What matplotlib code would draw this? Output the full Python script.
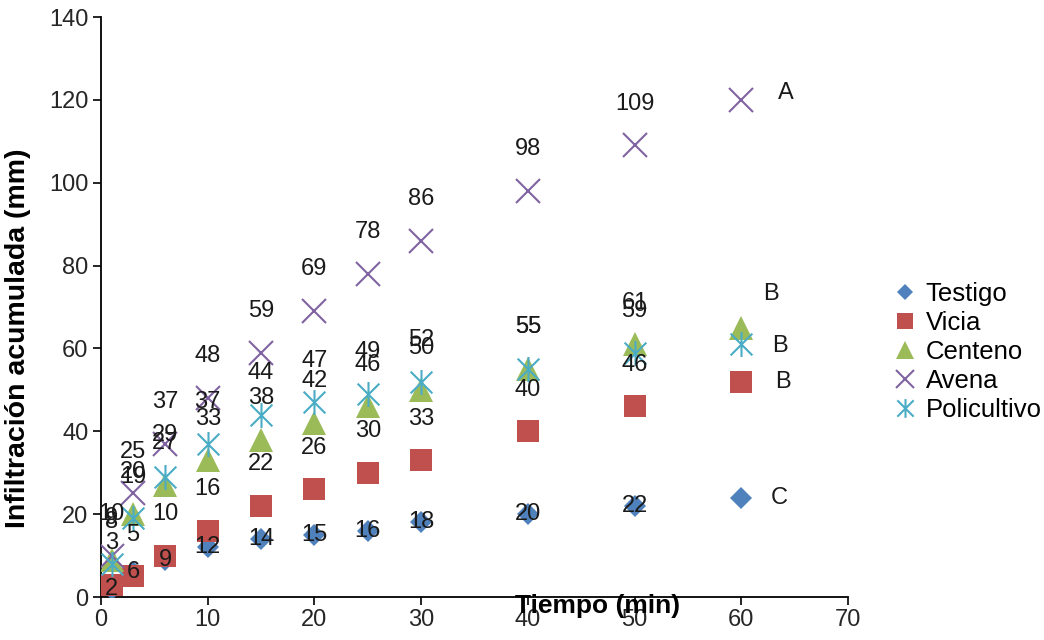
import numpy as np
import matplotlib.pyplot as plt
from matplotlib.path import Path

plt.rcParams['font.family'] = ['Liberation Sans', 'DejaVu Sans']

tiempo = [1, 3, 6, 10, 15, 20, 25, 30, 40, 50, 60]
testigo = [2, 6, 9, 12, 14, 15, 16, 18, 20, 22, 24]
vicia = [3, 5, 10, 16, 22, 26, 30, 33, 40, 46, 52]
centeno = [9, 20, 27, 33, 38, 42, 46, 50, 55, 61, 65]
avena = [10, 25, 37, 48, 59, 69, 78, 86, 98, 109, 120]
policultivo = [8, 19, 29, 37, 44, 47, 49, 52, 55, 59, 61]

nombres = ['Testigo', 'Vicia', 'Centeno', 'Avena', 'Policultivo']
letras = ['C', 'B', 'B', 'A', 'B']

# asterisco estilo Excel: una X con una barra vertical
asterisco = Path([(-1, -1), (1, 1), (-1, 1), (1, -1), (0, -1.15), (0, 1.15)],
                 [Path.MOVETO, Path.LINETO, Path.MOVETO, Path.LINETO,
                  Path.MOVETO, Path.LINETO])

estilos = [
    dict(marker='D', color='#4F81BD', ms=11.5, mew=0),
    dict(marker='s', color='#C0504D', ms=16, mew=0),
    dict(marker='^', color='#9BBB59', ms=17, mew=0),
    dict(marker='x', color='#8064A2', ms=17, mew=1.5),
    dict(marker=asterisco, color='#4BACC6', ms=18, mew=1.5),
]
# desplazamiento (pt) de las etiquetas de cada serie y de la letra final
desp_etiqueta = [(0, 0), (0, 30), (0, 30), (0, 30), (0, 30)]
desp_letra = [(27, 0), (30, 0), (21, 24), (32, 5), (28, -1)]

fig = plt.figure(figsize=(10.44, 6.4), dpi=100)
ax = fig.add_axes([101 / 1044, 43 / 640, 747 / 1044, 580 / 640])

series = [testigo, vicia, centeno, avena, policultivo]
for k, (nombre, valores, est) in enumerate(zip(nombres, series, estilos)):
    ax.plot(tiempo, valores, linestyle='none', label=nombre,
            marker=est['marker'], markersize=est['ms'],
            markerfacecolor=est['color'], markeredgecolor=est['color'],
            markeredgewidth=est['mew'], zorder=3 + k)
    for i, (t, v) in enumerate(zip(tiempo, valores)):
        if i == len(tiempo) - 1:
            ax.annotate(letras[k], (t, v), xytext=desp_letra[k],
                        textcoords='offset points', ha='center', va='center',
                        fontsize=17, color='#1a1a1a', zorder=20)
        else:
            ax.annotate(str(v), (t, v), xytext=desp_etiqueta[k],
                        textcoords='offset points', ha='center', va='center',
                        fontsize=17, color='#1a1a1a', zorder=20)

ax.set_xlim(0, 70)
ax.set_ylim(0, 140)
ax.set_xticks(np.arange(0, 71, 10))
ax.set_yticks(np.arange(0, 141, 20))
ax.spines['top'].set_visible(False)
ax.spines['right'].set_visible(False)
for s in ['left', 'bottom']:
    ax.spines[s].set_linewidth(1.3)
ax.tick_params(direction='out', length=6, width=1.2, labelsize=17,
               labelcolor='#262626', pad=3)

fig.text(598 / 1044, 1 - 606 / 640, 'Tiempo (min)', ha='center', va='center',
         fontsize=19, fontweight='bold')
fig.text(18 / 1044, 1 - 338 / 640, 'Infiltración acumulada (mm)', rotation=90,
         ha='center', va='center', fontsize=20.5, fontweight='bold')

ax.legend(loc='center left', bbox_to_anchor=(882 / 1044, 1 - 352 / 640),
          bbox_transform=fig.transFigure, frameon=False, fontsize=18.5,
          handlelength=1.0, handletextpad=0.3, labelspacing=0.2,
          markerscale=0.75, borderaxespad=0)

fig.savefig('out.png', dpi=100)
